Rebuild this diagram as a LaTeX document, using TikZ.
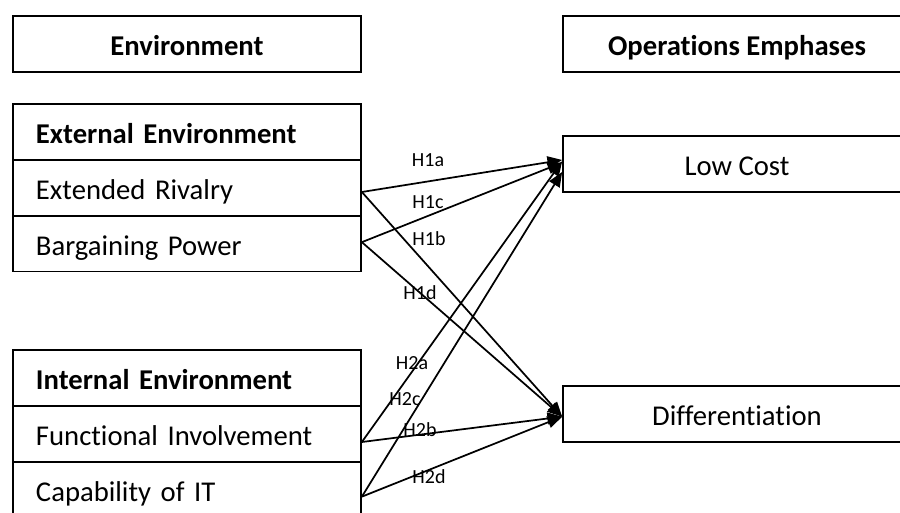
\documentclass[tikz,border=0pt]{standalone}
\usepackage{fontspec}
\setmainfont{Carlito}[Ligatures={NoCommon}]
\usetikzlibrary{arrows.meta}
\begin{document}
\begin{tikzpicture}[x=0.75pt,y=-0.75pt,
  box/.style={draw,line width=1.3pt,minimum width=261pt,minimum height=42pt,inner sep=0pt,text height=20pt,text depth=2.4pt,font=\fontsize{21.5}{24}\selectfont},
  bbox/.style={font=\bfseries\fontsize{21.5}{24}\selectfont},
  rowbox/.style={box,text width=226.5pt,align=left,inner xsep=17.25pt},
  hlabel/.style={font=\fontsize{15}{17}\selectfont,inner sep=0pt},
  conn/.style={line width=1.3pt,-{Triangle[length=11pt,width=9pt]}}]
\useasboundingbox (0,0) rectangle (900,513);
\clip (0,0) rectangle (900,513);
% left column
\node[box,bbox] (env) at (187,44) {Environment};
\node[rowbox,bbox] (ext) at (187,132) {External Environment};
\node[rowbox] (riv) at (187,188) {Extended Rivalry};
\node[rowbox] (bp) at (187,243.5) {Bargaining Power};
\node[rowbox,bbox] (int) at (187,378) {Internal Environment};
\node[rowbox] (fi) at (187,434) {Functional Involvement};
\node[rowbox] (cap) at (187,490) {Capability of IT};
% right column
\node[box,bbox] (ops) at (737,44) {Operations Emphases};
\node[box] (lc) at (737,164) {Low Cost};
\node[box] (dif) at (737,414) {Differentiation};
% connectors
\draw[conn] ([yshift=-3pt]riv.east) -- ([yshift=3pt]lc.west);
\draw[conn] ([yshift=1pt]bp.east) -- ([yshift=1pt]lc.west);
\draw[conn] ([yshift=-3pt]riv.east) -- ([yshift=-2pt]dif.west);
\draw[conn] ([yshift=1pt]bp.east) -- ([yshift=-2pt]dif.west);
\draw[conn] ([yshift=-6pt]fi.east) -- ([yshift=2pt]lc.west);
\draw[conn] ([yshift=-5pt]cap.east) -- ([yshift=-6pt]lc.west);
\draw[conn] ([yshift=-6pt]fi.east) -- ([yshift=-2pt]dif.west);
\draw[conn] ([yshift=-5pt]cap.east) -- ([yshift=-2pt]dif.west);
% labels
\node[hlabel] (l1a) at (428,160) {H1a};
\node[hlabel] (l1c) at (428,202) {H1c};
\node[hlabel] (l1b) at (429,239) {H1b};
\node[hlabel] (l1d) at (420,293) {H1d};
\node[hlabel] (l2a) at (412,363) {H2a};
\node[hlabel] (l2c) at (405,399) {H2c};
\node[hlabel] (l2b) at (420,430) {H2b};
\node[hlabel] (l2d) at (429,477) {H2d};
\end{tikzpicture}
\end{document}
